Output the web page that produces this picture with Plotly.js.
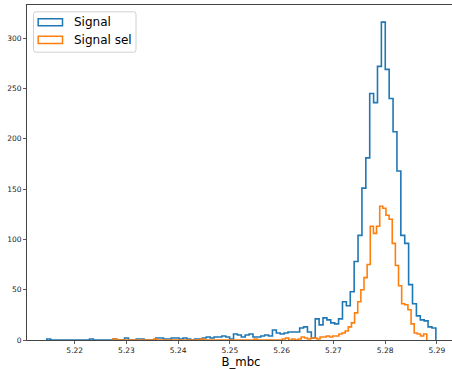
<!DOCTYPE html>
<html>
<head>
<meta charset="utf-8">
<script src="https://cdn.plot.ly/plotly-3.0.1.min.js"></script>
<style>
html, body { margin: 0; padding: 0; overflow: hidden; background: #fff; }
#chart { width: 460px; height: 369px; }
</style>
</head>
<body>
<div id="chart"></div>
<script>
// Histogram data (100 bins each)
const signalBinStart = 5.21460;
const signalBinWidth = 0.000752;
const signalCounts = [
  1,0,0,0,0,0,0,0,0,0,
  0,1,0,0,0,0,0,1,0,0,
  2,0,0,1,1,0,0,0,2,2,
  1,1,2,2,1,2,1,0,1,1,
  2,3,2,3,3,4,3,1,6,5,
  3,5,6,3,3,4,5,4,10,7,
  6,7,8,8,8,12,13,8,2,21,
  15,22,20,17,16,21,38,34,48,78,
  104,151,181,245,236,272,316,269,240,207,
  168,104,96,55,36,24,20,19,13,12
];

const selBinStart = 5.227385;
const selBinWidth = 0.0006066;
const selCounts = [
  1,0,0,0,0,0,0,0,0,0,
  0,0,0,1,0,0,0,0,0,0,
  0,0,0,0,0,0,0,0,1,0,
  0,0,0,0,0,0,0,0,0,0,
  0,0,0,0,0,1,0,0,0,0,
  0,0,0,0,1,2,0,1,0,1,
  3,2,1,2,2,1,3,3,4,3,
  4,4,6,7,9,13,17,27,38,50,
  62,75,113,106,113,133,131,124,120,96,
  74,54,36,35,30,16,7,6,4,6
];

const seriesNames = ["Signal", "Signal sel"];
const xTicks = [5.22, 5.23, 5.24, 5.25, 5.26, 5.27, 5.28, 5.29];
const xTickLabels = ["5.22", "5.23", "5.24", "5.25", "5.26", "5.27", "5.28", "5.29"];
const yTicks = [0, 50, 100, 150, 200, 250, 300];
const xLabel = "B_mbc";

const BLUE = "#1f77b4", ORANGE = "#ff7f0e";

function stepXY(start, width, counts) {
  const x = [start], y = [0];
  for (let i = 0; i < counts.length; i++) {
    x.push(start + i * width);
    y.push(counts[i]);
  }
  x.push(start + counts.length * width);
  y.push(0);
  return {x, y};
}

const s1 = stepXY(signalBinStart, signalBinWidth, signalCounts);
const s2 = stepXY(selBinStart, selBinWidth, selCounts);

const traces = [
  {x: s1.x, y: s1.y, type: "scatter", mode: "lines", name: seriesNames[0],
   line: {shape: "hv", color: BLUE, width: 1.6}, showlegend: false, hoverinfo: "skip"},
  {x: s2.x, y: s2.y, type: "scatter", mode: "lines", name: seriesNames[1],
   line: {shape: "hv", color: ORANGE, width: 1.6}, showlegend: false, hoverinfo: "skip"}
];

// Manual legend (matplotlib style: outlined patches in a rounded box)
const W = 428, H = 335;
function px2x(p) { return (p - 27) / W; }
function py2y(p) { return (340 - p) / H; }
function roundRect(x0, y0, x1, y1, r) {
  const rx = r / W, ry = r / H;
  const X0 = px2x(x0), X1 = px2x(x1), Y0 = py2y(y0), Y1 = py2y(y1);
  return `M${X0 + rx},${Y0} L${X1 - rx},${Y0} Q${X1},${Y0} ${X1},${Y0 - ry} ` +
         `L${X1},${Y1 + ry} Q${X1},${Y1} ${X1 - rx},${Y1} L${X0 + rx},${Y1} ` +
         `Q${X0},${Y1} ${X0},${Y1 + ry} L${X0},${Y0 - ry} Q${X0},${Y0} ${X0 + rx},${Y0} Z`;
}

const shapes = [
  {type: "path", xref: "paper", yref: "paper", path: roundRect(33.5, 11.8, 136, 52.2, 2.5),
   fillcolor: "rgba(255,255,255,0.8)", line: {color: "#d0d0d0", width: 1}, layer: "above"},
  {type: "rect", xref: "paper", yref: "paper", x0: px2x(38.2), x1: px2x(62.5), y0: py2y(18.8), y1: py2y(25.8),
   line: {color: BLUE, width: 1.5}, fillcolor: "rgba(0,0,0,0)", layer: "above"},
  {type: "rect", xref: "paper", yref: "paper", x0: px2x(38.2), x1: px2x(62.5), y0: py2y(36.2), y1: py2y(43.4),
   line: {color: ORANGE, width: 1.5}, fillcolor: "rgba(0,0,0,0)", layer: "above"}
];

const annotations = [
  {xref: "paper", yref: "paper", x: px2x(72.5), y: py2y(22.3), text: seriesNames[0],
   showarrow: false, xanchor: "left", yanchor: "middle", borderpad: 0,
   font: {family: "DejaVu Sans", size: 12, color: "#000"}},
  {xref: "paper", yref: "paper", x: px2x(72.5), y: py2y(39.8), text: seriesNames[1],
   showarrow: false, xanchor: "left", yanchor: "middle", borderpad: 0,
   font: {family: "DejaVu Sans", size: 12, color: "#000"}}
];

const layout = {
  width: 460, height: 369,
  margin: {l: 27, r: 5, t: 5, b: 29, pad: 0},
  paper_bgcolor: "#fff", plot_bgcolor: "#fff",
  showlegend: false,
  font: {family: "DejaVu Sans", color: "#222"},
  xaxis: {
    range: [5.21078, 5.29350],
    tickmode: "array", tickvals: xTicks, ticktext: xTickLabels,
    ticks: "outside", ticklen: 3, tickwidth: 0.8, tickcolor: "#333",
    tickfont: {size: 7.5, family: "DejaVu Sans", color: "#222"},
    showline: true, linecolor: "#444", linewidth: 1, mirror: true,
    showgrid: false, zeroline: false,
    title: {text: xLabel, font: {size: 11.7, family: "DejaVu Sans", color: "#000"}, standoff: 4},
    automargin: false
  },
  yaxis: {
    range: [0, 333],
    tickmode: "array", tickvals: yTicks,
    ticks: "outside", ticklen: 3, tickwidth: 0.8, tickcolor: "#333",
    tickfont: {size: 7.5, family: "DejaVu Sans", color: "#222"},
    showline: true, linecolor: "#444", linewidth: 1, mirror: true,
    showgrid: false, zeroline: false,
    automargin: false
  },
  shapes: shapes,
  annotations: annotations
};

Plotly.newPlot("chart", traces, layout, {displayModeBar: false, staticPlot: true});
</script>
</body>
</html>
